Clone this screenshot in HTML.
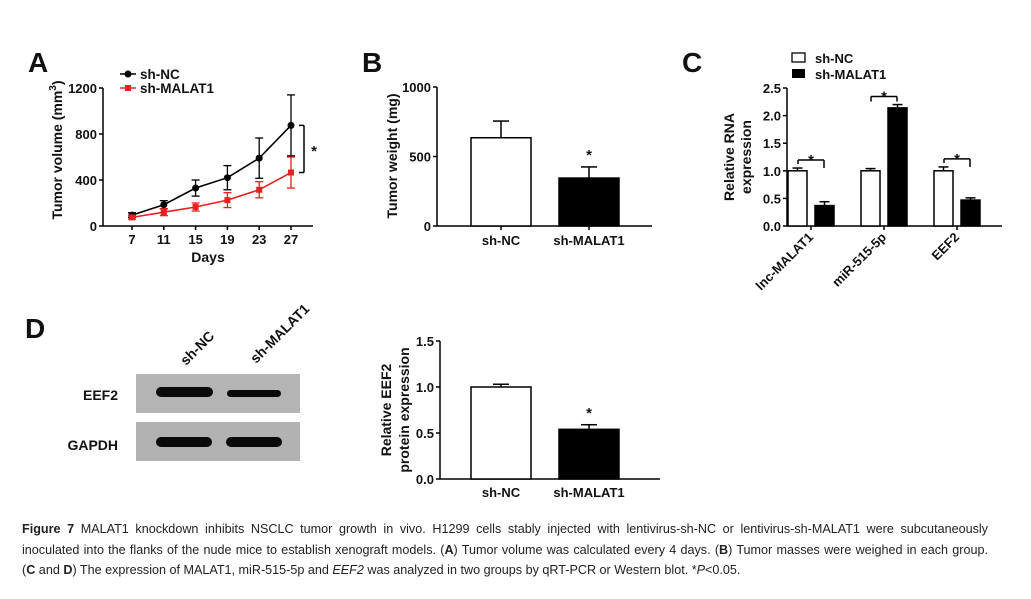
<!DOCTYPE html>
<html><head><meta charset="utf-8"><style>
html,body{margin:0;padding:0;background:#fff;width:1031px;height:599px;overflow:hidden;}
svg{position:absolute;left:0;top:0;font-family:"Liberation Sans",Arial,sans-serif;font-weight:bold;}
#cap{position:absolute;left:22px;top:519px;width:966px;font-family:"Liberation Sans",sans-serif;font-size:12.6px;line-height:20.5px;color:#222;}
#cap div{white-space:nowrap;}
#cap .j{text-align:justify;text-align-last:justify;white-space:normal;}
</style></head><body>
<svg id="fig" width="1031" height="599" xmlns="http://www.w3.org/2000/svg"></svg>
<div id="cap">
<div class="j"><b>Figure 7</b> MALAT1 knockdown inhibits NSCLC tumor growth in vivo. H1299 cells stably injected with lentivirus-sh-NC or lentivirus-sh-MALAT1 were subcutaneously</div>
<div class="j">inoculated into the flanks of the nude mice to establish xenograft models. (<b>A</b>) Tumor volume was calculated every 4 days. (<b>B</b>) Tumor masses were weighed in each group.</div>
<div>(<b>C</b> and <b>D</b>) The expression of MALAT1, miR-515-5p and <i>EEF2</i> was analyzed in two groups by qRT-PCR or Western blot. *<i>P</i>&lt;0.05.</div>
</div>
<script>
// Panel A data
const daysA = [7, 11, 15, 19, 23, 27];
const ncVol = [95, 185, 330, 420, 590, 875];
const ncErr = [20, 35, 70, 105, 175, 265];
const malVol = [75, 120, 165, 225, 315, 465];
const malErr = [15, 30, 35, 65, 70, 135];
const ticksA = [0, 400, 800, 1200];
// Panel B data
const catsB = ["sh-NC", "sh-MALAT1"];
const valsB = [635, 345];
const errsB = [120, 80];
const ticksB = [0, 500, 1000];
// Panel C data
const catsC = ["lnc-MALAT1", "miR-515-5p", "EEF2"];
const ncC = [1.0, 1.0, 1.0];
const ncCErr = [0.05, 0.04, 0.07];
const malC = [0.37, 2.14, 0.47];
const malCErr = [0.07, 0.06, 0.04];
const ticksC = ["0.0", "0.5", "1.0", "1.5", "2.0", "2.5"];
// Panel D data
const catsD = ["sh-NC", "sh-MALAT1"];
const valsD = [1.0, 0.54];
const errsD = [0.03, 0.05];
const ticksD = ["0.0", "0.5", "1.0", "1.5"];

const svg = document.getElementById('fig');
const NS = "http://www.w3.org/2000/svg";
function mk(tag, attrs, name, parent, text) {
  const e = document.createElementNS(NS, tag);
  for (const k in attrs) e.setAttribute(k, attrs[k]);
  
  
  if (text !== undefined) e.textContent = text;
  (parent || svg).appendChild(e);
  return e;
}
function line(x1,y1,x2,y2,name,col,w){return mk('line',{x1,y1,x2,y2,stroke:col||'#000','stroke-width':w||1.5},name);}
function txt(x,y,s,size,name,anchor,extra){const a=Object.assign({x,y,'font-size':size,'text-anchor':anchor||'middle',fill:'#111'},extra||{});return mk('text',a,name,svg,s);}

txt(28,72,"A",28,"panel-label-a","start");
txt(362,72,"B",28,"panel-label-b","start");
txt(682,72,"C",28,"panel-label-c","start");
txt(25,338,"D",28,"panel-label-d","start");

// ===== Panel A =====
const ax=103, y0A=226, ytopA=88;
const xA = d => 132 + (d-7)*7.95;
const yA = v => y0A - v/1200*(y0A-ytopA);
line(ax,ytopA,ax,y0A,"y-axis-a");
line(ax,y0A,313,y0A,"x-axis-a");
ticksA.forEach(t=>{line(ax-4,yA(t),ax,yA(t),"y-tick-a");txt(ax-6,yA(t)+5,String(t),13,"y-tick-label-a","end");});
daysA.forEach(d=>{line(xA(d),y0A,xA(d),y0A+4,"x-tick-a");txt(xA(d),244,String(d),13,"x-tick-label-a");});
txt(208,262,"Days",14,"x-axis-title-a");
const ta=txt(0,0,"",14,"y-axis-title-a","middle",{transform:"translate(62,150) rotate(-90)"});
ta.innerHTML='Tumor volume (mm<tspan dy="-6" font-size="10">3</tspan><tspan dy="6">)</tspan>';
function series(vals,errs,col,name,sq){
  let p=daysA.map((d,i)=>xA(d)+","+yA(vals[i])).join(" ");
  mk('polyline',{points:p,fill:'none',stroke:col,'stroke-width':1.6},name+"-line");
  daysA.forEach((d,i)=>{
    const x=xA(d);
    line(x,yA(vals[i]-errs[i]),x,yA(vals[i]+errs[i]),name+"-errorbar",col,1.3);
    line(x-4,yA(vals[i]+errs[i]),x+4,yA(vals[i]+errs[i]),name+"-errorcap",col,1.3);
    line(x-4,yA(vals[i]-errs[i]),x+4,yA(vals[i]-errs[i]),name+"-errorcap",col,1.3);
    if(sq) mk('rect',{x:x-3,y:yA(vals[i])-3,width:6,height:6,fill:col},name+"-point");
    else mk('circle',{cx:x,cy:yA(vals[i]),r:3.5,fill:col},name+"-point");
  });
}
series(ncVol,ncErr,'#000',"sh-nc-series",false);
series(malVol,malErr,'#e8201f',"sh-malat1-series",true);
line(299,yA(ncVol[5]),304,yA(ncVol[5]),"sig-bracket-a");
line(304,yA(ncVol[5]),304,yA(malVol[5]),"sig-bracket-a");
line(299,yA(malVol[5]),304,yA(malVol[5]),"sig-bracket-a");
txt(314,156,"*",15,"significance-star-a");
line(120,74,136,74,"legend-line-nc");mk('circle',{cx:128,cy:74,r:3.5,fill:'#000'},"legend-marker-nc");
txt(140,79,"sh-NC",13.5,"legend-label-nc","start");
line(120,88,136,88,"legend-line-malat1",'#e8201f');mk('rect',{x:125,y:85,width:6,height:6,fill:'#e8201f'},"legend-marker-malat1");
txt(140,93,"sh-MALAT1",13.5,"legend-label-malat1","start");

// ===== Panel B =====
const bx=437, y0B=226, ytopB=87;
const yB=v=>y0B-v/1000*(y0B-ytopB);
const barXB=[471,559], bwB=60;
line(bx,ytopB,bx,y0B,"y-axis-b");line(bx,y0B,652,y0B,"x-axis-b");
ticksB.forEach(t=>{line(bx-4,yB(t),bx,yB(t),"y-tick-b");txt(bx-6,yB(t)+5,String(t),13,"y-tick-label-b","end");});
catsB.forEach((c,i)=>{
  const x=barXB[i], cx=x+bwB/2;
  line(cx,yB(valsB[i]),cx,yB(valsB[i]+errsB[i]),"error-bar-b");
  line(cx-8,yB(valsB[i]+errsB[i]),cx+8,yB(valsB[i]+errsB[i]),"error-cap-b");
  mk('rect',{x,y:yB(valsB[i]),width:bwB,height:y0B-yB(valsB[i]),fill:i?'#000':'#fff',stroke:'#000','stroke-width':1.5},"bar-b-"+c);
  line(cx,y0B,cx,y0B+4,"x-tick-b");
  txt(cx,245,c,13,"x-tick-label-b");
});
txt(589,160,"*",15,"significance-star-b");
txt(0,0,"Tumor weight (mg)",14,"y-axis-title-b","middle",{transform:"translate(397,156) rotate(-90)"});

// ===== Panel C =====
const cx0=787, y0C=226, ytopC=88;
const yC=v=>y0C-v/2.5*(y0C-ytopC);
const grpC=[811,884,957], bwC=19;
line(cx0,ytopC,cx0,y0C,"y-axis-c");line(cx0,y0C,1002,y0C,"x-axis-c");
ticksC.forEach(t=>{const v=parseFloat(t);line(cx0-4,yC(v),cx0,yC(v),"y-tick-c");txt(cx0-6,yC(v)+5,t,13,"y-tick-label-c","end");});
catsC.forEach((c,i)=>{
  const g=grpC[i];
  [[ncC,ncCErr,g-23,'#fff',"sh-nc"],[malC,malCErr,g+4,'#000',"sh-malat1"]].forEach(([v,e,x,f,n])=>{
    const m=x+bwC/2;
    line(m,yC(v[i]),m,yC(v[i]+e[i]),"error-bar-c");
    line(m-5,yC(v[i]+e[i]),m+5,yC(v[i]+e[i]),"error-cap-c");
    mk('rect',{x,y:yC(v[i]),width:bwC,height:y0C-yC(v[i]),fill:f,stroke:'#000','stroke-width':1.5},"bar-c-"+n+"-"+c);
  });
  line(g,y0C,g,y0C+4,"x-tick-c");
  txt(0,0,c,13,"x-tick-label-c","end",{transform:`translate(${g+3},${y0C+12}) rotate(-45)`});
  const top=Math.max(ncC[i]+ncCErr[i],malC[i]+malCErr[i]);
  const by=yC(top)-8;
  if(i===1){
    line(g-13,by+5,g-13,by,"sig-bracket-c");line(g-13,by,g+13,by,"sig-bracket-c");line(g+13,by,g+13,by+5,"sig-bracket-c");
  } else {
    const yb=yC(ncC[i]+ncCErr[i])-8;
    line(g-13,yb+4,g-13,yb,"sig-bracket-c");line(g-13,yb,g+13,yb,"sig-bracket-c");line(g+13,yb,g+13,yb+8,"sig-bracket-c");
  }
  const sy=(i===1?by:yC(ncC[i]+ncCErr[i])-8)-1;
  txt(g,sy+6,"*",15,"significance-star-c");
});
mk('rect',{x:792,y:53,width:13,height:9,fill:'#fff',stroke:'#000','stroke-width':1.3},"legend-swatch-nc-c");
txt(815,63,"sh-NC",13,"legend-label-nc-c","start");
mk('rect',{x:792,y:69,width:13,height:9,fill:'#000'},"legend-swatch-malat1-c");
txt(815,79,"sh-MALAT1",13,"legend-label-malat1-c","start");
txt(0,0,"Relative RNA",14,"y-axis-title-c","middle",{transform:"translate(734,157) rotate(-90)"});
txt(0,0,"expression",14,"y-axis-title-c-line2","middle",{transform:"translate(751,157) rotate(-90)"});

// ===== Panel D chart =====
const dx=440, y0D=479, ytopD=341;
const yD=v=>y0D-v/1.5*(y0D-ytopD);
const barXD=[471,559], bwD=60;
line(dx,ytopD,dx,y0D,"y-axis-d");line(dx,y0D,660,y0D,"x-axis-d");
ticksD.forEach(t=>{const v=parseFloat(t);line(dx-4,yD(v),dx,yD(v),"y-tick-d");txt(dx-6,yD(v)+5,t,13,"y-tick-label-d","end");});
catsD.forEach((c,i)=>{
  const x=barXD[i], m=x+bwD/2;
  line(m,yD(valsD[i]),m,yD(valsD[i]+errsD[i]),"error-bar-d");
  line(m-8,yD(valsD[i]+errsD[i]),m+8,yD(valsD[i]+errsD[i]),"error-cap-d");
  mk('rect',{x,y:yD(valsD[i]),width:bwD,height:y0D-yD(valsD[i]),fill:i?'#000':'#fff',stroke:'#000','stroke-width':1.5},"bar-d-"+c);
  txt(m,497,c,13,"x-tick-label-d");
});
txt(589,418,"*",15,"significance-star-d");
txt(0,0,"Relative EEF2",14,"y-axis-title-d","middle",{transform:"translate(391,410) rotate(-90)"});
txt(0,0,"protein expression",14,"y-axis-title-d-line2","middle",{transform:"translate(409,410) rotate(-90)"});

// ===== Western blot =====
mk('rect',{x:136,y:374,width:164,height:39,fill:'#b4b4b4'},"blot-eef2-membrane");
mk('rect',{x:136,y:422,width:164,height:39,fill:'#b2b2b2'},"blot-gapdh-membrane");
mk('rect',{x:156,y:387,width:57,height:10,rx:5,fill:'#0a0a0a'},"band-eef2-sh-nc");
mk('rect',{x:227,y:390,width:54,height:7,rx:3.5,fill:'#0a0a0a'},"band-eef2-sh-malat1");
mk('rect',{x:156,y:437,width:56,height:10,rx:5,fill:'#0a0a0a'},"band-gapdh-sh-nc");
mk('rect',{x:226,y:437,width:56,height:10,rx:5,fill:'#0a0a0a'},"band-gapdh-sh-malat1");
txt(118,400,"EEF2",14,"blot-label-eef2","end");
txt(118,450,"GAPDH",14,"blot-label-gapdh","end");
txt(0,0,"sh-NC",14,"lane-label-sh-nc","start",{transform:"translate(186,366) rotate(-45)"});
txt(0,0,"sh-MALAT1",14,"lane-label-sh-malat1","start",{transform:"translate(256,364) rotate(-45)"});
</script>
</body></html>
